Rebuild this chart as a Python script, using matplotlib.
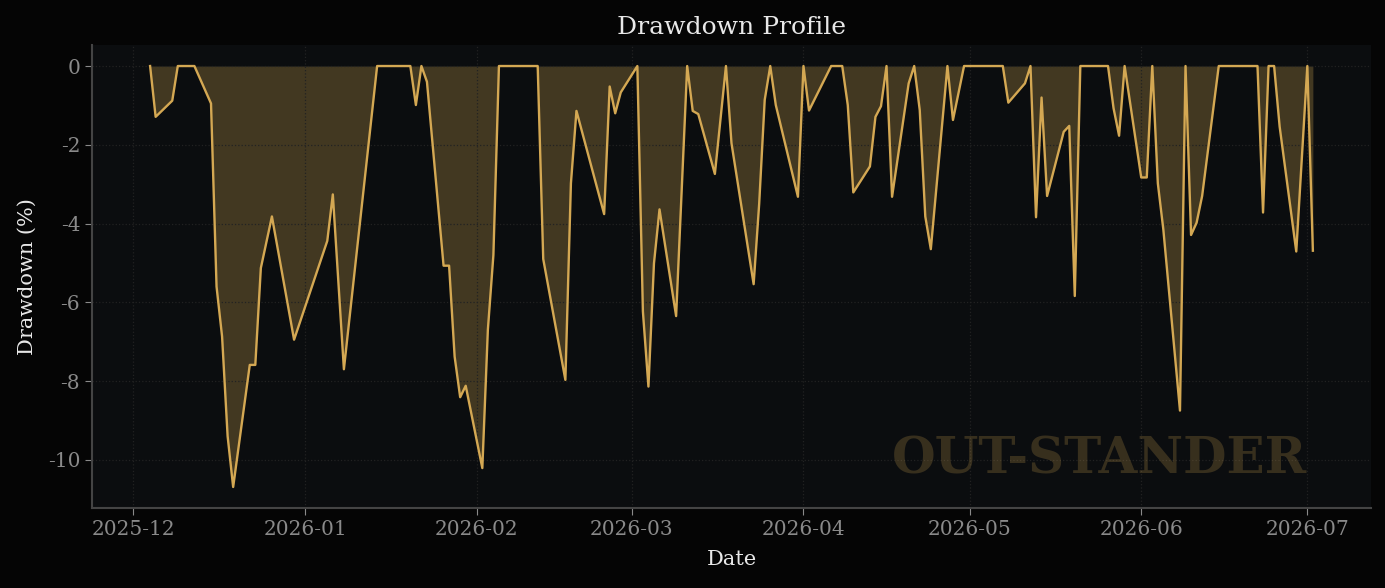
import matplotlib
matplotlib.use("Agg")
import matplotlib.pyplot as plt
import matplotlib.dates as mdates
import pandas as pd

plt.rcParams["axes.unicode_minus"] = False

# drawdown per trading day (only the days where the line bends)
dates = [
    "2025-12-04", "2025-12-05", "2025-12-08", "2025-12-09", "2025-12-12",
    "2025-12-15", "2025-12-16", "2025-12-17", "2025-12-18", "2025-12-19",
    "2025-12-22", "2025-12-23", "2025-12-24", "2025-12-26", "2025-12-30",
    "2026-01-05", "2026-01-06", "2026-01-08", "2026-01-14", "2026-01-20",
    "2026-01-21", "2026-01-22", "2026-01-23", "2026-01-26", "2026-01-27",
    "2026-01-28", "2026-01-29", "2026-01-30", "2026-02-02", "2026-02-03",
    "2026-02-04", "2026-02-05", "2026-02-12", "2026-02-13", "2026-02-17",
    "2026-02-18", "2026-02-19", "2026-02-24", "2026-02-25", "2026-02-26",
    "2026-02-27", "2026-03-02", "2026-03-03", "2026-03-04", "2026-03-05",
    "2026-03-06", "2026-03-09", "2026-03-11", "2026-03-12", "2026-03-13",
    "2026-03-16", "2026-03-18", "2026-03-19", "2026-03-23", "2026-03-24",
    "2026-03-25", "2026-03-26", "2026-03-27", "2026-03-31", "2026-04-01",
    "2026-04-02", "2026-04-06", "2026-04-08", "2026-04-09", "2026-04-10",
    "2026-04-13", "2026-04-14", "2026-04-15", "2026-04-16", "2026-04-17",
    "2026-04-20", "2026-04-21", "2026-04-22", "2026-04-23", "2026-04-24",
    "2026-04-27", "2026-04-28", "2026-04-30", "2026-05-07", "2026-05-08",
    "2026-05-11", "2026-05-12", "2026-05-13", "2026-05-14", "2026-05-15",
    "2026-05-18", "2026-05-19", "2026-05-20", "2026-05-21", "2026-05-26",
    "2026-05-27", "2026-05-28", "2026-05-29", "2026-06-01", "2026-06-02",
    "2026-06-03", "2026-06-04", "2026-06-05", "2026-06-08", "2026-06-09",
    "2026-06-10", "2026-06-11", "2026-06-12", "2026-06-15", "2026-06-22",
    "2026-06-23", "2026-06-24", "2026-06-25", "2026-06-26", "2026-06-29",
    "2026-07-01", "2026-07-02",
]
drawdown = [
    0, -1.29, -0.88, 0, 0,
    -0.95, -5.6, -6.87, -9.4, -10.69,
    -7.59, -7.59, -5.13, -3.82, -6.95,
    -4.44, -3.26, -7.70, 0, 0,
    -0.99, 0, -0.40, -5.07, -5.07,
    -7.38, -8.41, -8.12, -10.21, -6.7,
    -4.80, 0, 0, -4.90, -7.97,
    -2.98, -1.14, -3.76, -0.52, -1.20,
    -0.67, 0, -6.23, -8.14, -5.01,
    -3.64, -6.35, 0, -1.14, -1.22,
    -2.74, 0, -1.96, -5.54, -3.5,
    -0.86, 0, -0.99, -3.32, 0,
    -1.13, 0, 0, -0.99, -3.21,
    -2.55, -1.29, -1.02, 0, -3.32,
    -0.44, 0, -1.12, -3.82, -4.65,
    0, -1.37, 0, 0, -0.93,
    -0.44, 0, -3.84, -0.80, -3.30,
    -1.67, -1.52, -5.84, 0, 0,
    -1.07, -1.77, 0, -2.83, -2.83,
    0, -2.98, -4.16, -8.75, 0,
    -4.29, -3.98, -3.3, 0, 0,
    -3.72, 0, 0, -1.54, -4.71,
    0, -4.69,
]

gold = "#d4a853"
x = pd.to_datetime(dates)

fig = plt.figure(figsize=(13.85, 5.88), dpi=100, facecolor="#050505")
ax = fig.add_axes([0.0664, 0.136, 0.9235, 0.7875])
ax.set_facecolor("#0b0d0f")

ax.fill_between(x, drawdown, 0, color=gold, alpha=0.28, linewidth=0)
ax.plot(x, drawdown, color=gold, linewidth=1.7)

ax.set_title("Drawdown Profile", family="DejaVu Serif", fontsize=18, color="#e8e8e8", pad=8)
ax.set_xlabel("Date", family="DejaVu Serif", fontsize=15, color="#e8e8e8", labelpad=8)
ax.set_ylabel("Drawdown (%)", family="DejaVu Serif", fontsize=15, color="#e8e8e8", labelpad=8)

ax.xaxis.set_major_locator(mdates.MonthLocator())
ax.xaxis.set_major_formatter(mdates.DateFormatter("%Y-%m"))
ax.tick_params(colors="#8a8a8a", labelsize=14.5, length=5)
for lab in ax.get_xticklabels() + ax.get_yticklabels():
    lab.set_family("DejaVu Serif")

ax.grid(True, linestyle=":", color="#222222", linewidth=0.9)
for s in ["top", "right"]:
    ax.spines[s].set_visible(False)
for s in ["left", "bottom"]:
    ax.spines[s].set_color("#444444")
    ax.spines[s].set_linewidth(1.5)

ax.text(0.95, 0.05, "OUT-STANDER", transform=ax.transAxes, ha="right", va="bottom",
        family="DejaVu Serif", fontweight="bold", fontsize=36, color=gold, alpha=0.22)

fig.savefig("out.png", dpi=100, facecolor=fig.get_facecolor())
